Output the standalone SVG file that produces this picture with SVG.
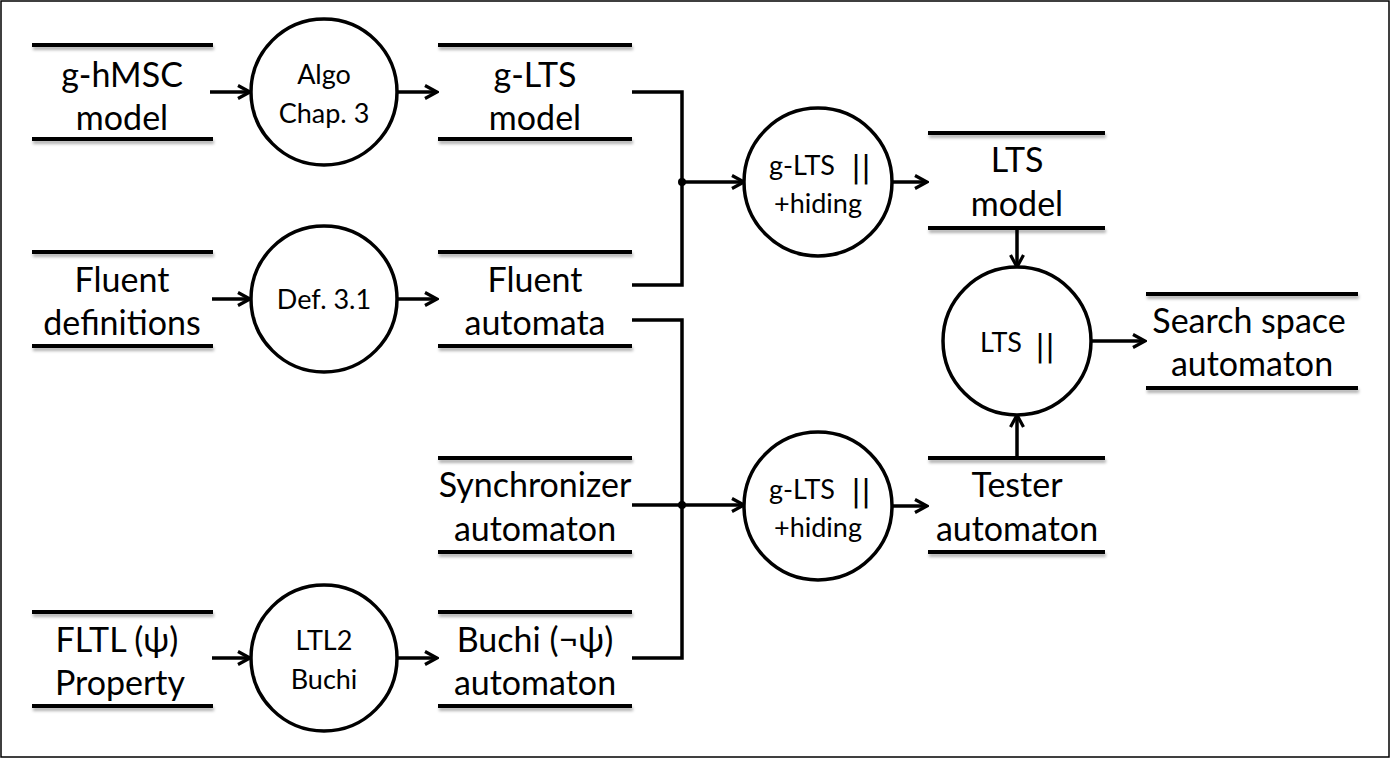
<svg xmlns="http://www.w3.org/2000/svg" width="1391" height="759" viewBox="0 0 1391 759">
<style>
.bar{stroke:#000;stroke-width:4;fill:none}
.c{fill:#fff;stroke:#000;stroke-width:3.5}
.t{font-family:Lato,"Liberation Sans",sans-serif;font-size:34px;fill:#000;text-anchor:middle}
.s{font-family:Lato,"Liberation Sans",sans-serif;font-size:27px;fill:#000;text-anchor:middle}
.p{font-family:"DejaVu Sans","Liberation Sans",sans-serif;font-size:30px;fill:#000;text-anchor:middle}
.w{stroke:#000;stroke-width:3.5;fill:none}
.a{stroke:#000;stroke-width:3.5;fill:none;marker-end:url(#ah)}
</style>
<defs>
<marker id="ah" viewBox="0 0 16 16" refX="14" refY="8" markerWidth="16" markerHeight="16" markerUnits="userSpaceOnUse" orient="auto">
<path d="M2,1.5 L14,8 L2,14.5" fill="none" stroke="#000" stroke-width="3.2"/>
</marker>
<filter id="sh" filterUnits="userSpaceOnUse" x="0" y="0" width="1391" height="759">
<feDropShadow dx="1" dy="3" stdDeviation="1.5" flood-color="#000" flood-opacity="0.3"/>
</filter>
</defs>
<rect x="1" y="1" width="1388" height="756" fill="#fff" stroke="#000" stroke-width="1.5"/>

<g id="connectors">
<line class="a" x1="210" y1="92" x2="250" y2="92"/>
<line class="a" x1="398" y1="92" x2="437" y2="92"/>
<line class="a" x1="212" y1="299" x2="250" y2="299"/>
<line class="a" x1="398" y1="299" x2="437" y2="299"/>
<line class="a" x1="212" y1="658" x2="250" y2="658"/>
<line class="a" x1="398" y1="658" x2="437" y2="658"/>
<path class="w" d="M632,92 H682 V285 H632"/>
<line class="a" x1="682" y1="182" x2="744" y2="182"/>
<circle cx="682" cy="182" r="4" fill="#000"/>
<path class="w" d="M632,320 H682 V658 H632"/>
<line class="w" x1="632" y1="505" x2="682" y2="505"/>
<line class="a" x1="682" y1="505" x2="744" y2="505"/>
<circle cx="682" cy="505" r="4" fill="#000"/>
<line class="a" x1="893" y1="182" x2="927" y2="182"/>
<line class="a" x1="893" y1="506" x2="927" y2="506"/>
<line class="a" x1="1017" y1="230" x2="1017" y2="267"/>
<line class="a" x1="1017" y1="458" x2="1017" y2="415"/>
<line class="a" x1="1092" y1="341" x2="1145" y2="341"/>
</g>

<g id="ghmsc">
<line class="bar" filter="url(#sh)" x1="32" y1="45" x2="213" y2="45"/>
<line class="bar" filter="url(#sh)" x1="32" y1="139" x2="213" y2="139"/>
<text class="t" x="122" y="87">g-hMSC</text>
<text class="t" x="122" y="130">model</text>
</g>
<g id="fluentdef">
<line class="bar" filter="url(#sh)" x1="32" y1="252" x2="213" y2="252"/>
<line class="bar" filter="url(#sh)" x1="32" y1="346" x2="213" y2="346"/>
<text class="t" x="122" y="292">Fluent</text>
<text class="t" x="122" y="335">definitions</text>
</g>
<g id="fltl">
<line class="bar" filter="url(#sh)" x1="32" y1="612" x2="213" y2="612"/>
<line class="bar" filter="url(#sh)" x1="32" y1="706" x2="213" y2="706"/>
<text class="t" x="117" y="652">FLTL (ψ)</text>
<text class="t" x="120" y="695">Property</text>
</g>

<g id="algo">
<circle class="c" cx="324" cy="92" r="73"/>
<text class="s" x="324" y="84">Algo</text>
<text class="s" x="324" y="123">Chap. 3</text>
</g>
<g id="def31">
<circle class="c" cx="324" cy="299" r="73"/>
<text class="s" x="324" y="309">Def. 3.1</text>
</g>
<g id="ltl2buchi">
<circle class="c" cx="324" cy="658" r="73"/>
<text class="s" x="324" y="650">LTL2</text>
<text class="s" x="324" y="689">Buchi</text>
</g>

<g id="glts">
<line class="bar" filter="url(#sh)" x1="438" y1="45" x2="632" y2="45"/>
<line class="bar" filter="url(#sh)" x1="438" y1="139" x2="632" y2="139"/>
<text class="t" x="535" y="87">g-LTS</text>
<text class="t" x="535" y="130">model</text>
</g>
<g id="fluentaut">
<line class="bar" filter="url(#sh)" x1="438" y1="252" x2="632" y2="252"/>
<line class="bar" filter="url(#sh)" x1="438" y1="346" x2="632" y2="346"/>
<text class="t" x="535" y="292">Fluent</text>
<text class="t" x="535" y="335">automata</text>
</g>
<g id="sync">
<line class="bar" filter="url(#sh)" x1="438" y1="458" x2="632" y2="458"/>
<line class="bar" filter="url(#sh)" x1="438" y1="552" x2="632" y2="552"/>
<text class="t" x="535" y="497">Synchronizer</text>
<text class="t" x="535" y="541">automaton</text>
</g>
<g id="buchi">
<line class="bar" filter="url(#sh)" x1="438" y1="612" x2="632" y2="612"/>
<line class="bar" filter="url(#sh)" x1="438" y1="706" x2="632" y2="706"/>
<text class="t" x="535" y="652">Buchi (¬ψ)</text>
<text class="t" x="535" y="695">automaton</text>
</g>

<g id="gltspar1">
<circle class="c" cx="818" cy="182" r="74"/>
<text class="s" x="802" y="175">g-LTS</text>
<text class="p" x="861" y="177">||</text>
<text class="s" x="818" y="213">+hiding</text>
</g>
<g id="gltspar2">
<circle class="c" cx="818" cy="506" r="74"/>
<text class="s" x="802" y="499">g-LTS</text>
<text class="p" x="861" y="501">||</text>
<text class="s" x="818" y="537">+hiding</text>
</g>

<g id="ltsmodel">
<line class="bar" filter="url(#sh)" x1="928" y1="133" x2="1105" y2="133"/>
<line class="bar" filter="url(#sh)" x1="928" y1="228" x2="1105" y2="228"/>
<text class="t" x="1017" y="172">LTS</text>
<text class="t" x="1017" y="216">model</text>
</g>
<g id="tester">
<line class="bar" filter="url(#sh)" x1="928" y1="458" x2="1105" y2="458"/>
<line class="bar" filter="url(#sh)" x1="928" y1="552" x2="1105" y2="552"/>
<text class="t" x="1017" y="497">Tester</text>
<text class="t" x="1017" y="541">automaton</text>
</g>

<g id="ltspar">
<circle class="c" cx="1017" cy="341" r="74"/>
<text class="s" x="1001" y="352">LTS</text>
<text class="p" x="1045" y="356">||</text>
</g>

<g id="search">
<line class="bar" filter="url(#sh)" x1="1146" y1="294" x2="1358" y2="294"/>
<line class="bar" filter="url(#sh)" x1="1146" y1="388" x2="1358" y2="388"/>
<text class="t" x="1249" y="333">Search space</text>
<text class="t" x="1252" y="376">automaton</text>
</g>
</svg>
